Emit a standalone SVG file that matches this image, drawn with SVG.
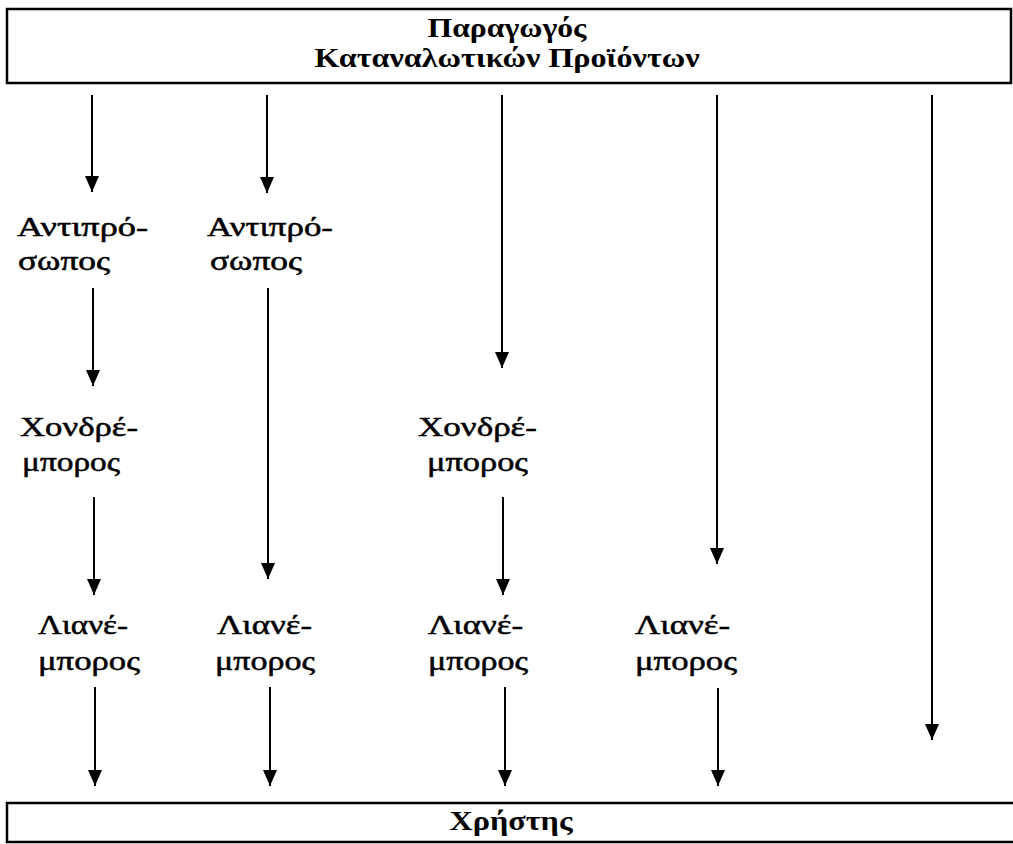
<svg xmlns="http://www.w3.org/2000/svg" width="1013" height="844" viewBox="0 0 1013 844">
<defs>
<style>
.box{fill:none;stroke:#000;stroke-width:2.5}
.title{font-family:"Liberation Serif","DejaVu Serif",serif;font-weight:bold;font-size:28px;fill:#000;text-anchor:middle}
.lbl{font-family:"Liberation Serif","DejaVu Serif",serif;font-size:27px;fill:#000;stroke:#000;stroke-width:0.5}
.arr{stroke:#000;stroke-width:2;fill:none;marker-end:url(#ah)}
</style>
<marker id="ah" markerUnits="userSpaceOnUse" markerWidth="16" markerHeight="14" viewBox="0 0 16 14" refX="16" refY="7" orient="auto">
<path d="M0,0 L16,7 L0,14 Z" fill="#000"/>
</marker>
</defs>
<rect width="1013" height="844" fill="#fff"/>
<g id="producer">
<rect class="box" x="7" y="9" width="1004" height="74"/>
<text class="title" x="507" y="37" textLength="159" lengthAdjust="spacingAndGlyphs">Παραγωγός</text>
<text class="title" x="507" y="67" textLength="385" lengthAdjust="spacingAndGlyphs">Καταναλωτικών Προϊόντων</text>
</g>
<g id="user">
<path class="box" d="M1013,803 L7,803 L7,842 L1013,842"/>
<text class="title" x="511" y="830" textLength="123" lengthAdjust="spacingAndGlyphs">Χρήστης</text>
</g>
<g id="agent1">
<text class="lbl" x="17" y="236" textLength="131" lengthAdjust="spacingAndGlyphs">Αντιπρό-</text>
<text class="lbl" x="18" y="270" textLength="92" lengthAdjust="spacingAndGlyphs">σωπος</text>
</g>
<g id="agent2">
<text class="lbl" x="207" y="236" textLength="126" lengthAdjust="spacingAndGlyphs">Αντιπρό-</text>
<text class="lbl" x="210" y="270" textLength="92" lengthAdjust="spacingAndGlyphs">σωπος</text>
</g>
<g id="wholesaler1">
<text class="lbl" x="20" y="436" textLength="118" lengthAdjust="spacingAndGlyphs">Χονδρέ-</text>
<text class="lbl" x="22" y="471" textLength="98" lengthAdjust="spacingAndGlyphs">μπορος</text>
</g>
<g id="wholesaler3">
<text class="lbl" x="418" y="436" textLength="119" lengthAdjust="spacingAndGlyphs">Χονδρέ-</text>
<text class="lbl" x="427" y="471" textLength="101" lengthAdjust="spacingAndGlyphs">μπορος</text>
</g>
<g id="retailer1">
<text class="lbl" x="38" y="634" textLength="90" lengthAdjust="spacingAndGlyphs">Λιανέ-</text>
<text class="lbl" x="38" y="670" textLength="102" lengthAdjust="spacingAndGlyphs">μπορος</text>
</g>
<g id="retailer2">
<text class="lbl" x="217" y="634" textLength="95" lengthAdjust="spacingAndGlyphs">Λιανέ-</text>
<text class="lbl" x="215" y="670" textLength="100" lengthAdjust="spacingAndGlyphs">μπορος</text>
</g>
<g id="retailer3">
<text class="lbl" x="428" y="634" textLength="95" lengthAdjust="spacingAndGlyphs">Λιανέ-</text>
<text class="lbl" x="428" y="670" textLength="100" lengthAdjust="spacingAndGlyphs">μπορος</text>
</g>
<g id="retailer4">
<text class="lbl" x="635" y="634" textLength="95" lengthAdjust="spacingAndGlyphs">Λιανέ-</text>
<text class="lbl" x="635" y="670" textLength="102" lengthAdjust="spacingAndGlyphs">μπορος</text>
</g>
<g id="connectors">
<line class="arr" x1="92" y1="95" x2="92" y2="192"/>
<line class="arr" x1="93" y1="288" x2="93" y2="386"/>
<line class="arr" x1="94" y1="497" x2="94" y2="595"/>
<line class="arr" x1="95" y1="687" x2="95" y2="786"/>
<line class="arr" x1="267" y1="95" x2="267" y2="193"/>
<line class="arr" x1="268" y1="288" x2="268" y2="579"/>
<line class="arr" x1="270" y1="687" x2="270" y2="786"/>
<line class="arr" x1="502" y1="95" x2="502" y2="368"/>
<line class="arr" x1="503" y1="497" x2="503" y2="595"/>
<line class="arr" x1="505" y1="687" x2="505" y2="786"/>
<line class="arr" x1="717" y1="95" x2="717" y2="564"/>
<line class="arr" x1="718" y1="688" x2="718" y2="786"/>
<line class="arr" x1="932" y1="95" x2="932" y2="740"/>
</g>
</svg>
